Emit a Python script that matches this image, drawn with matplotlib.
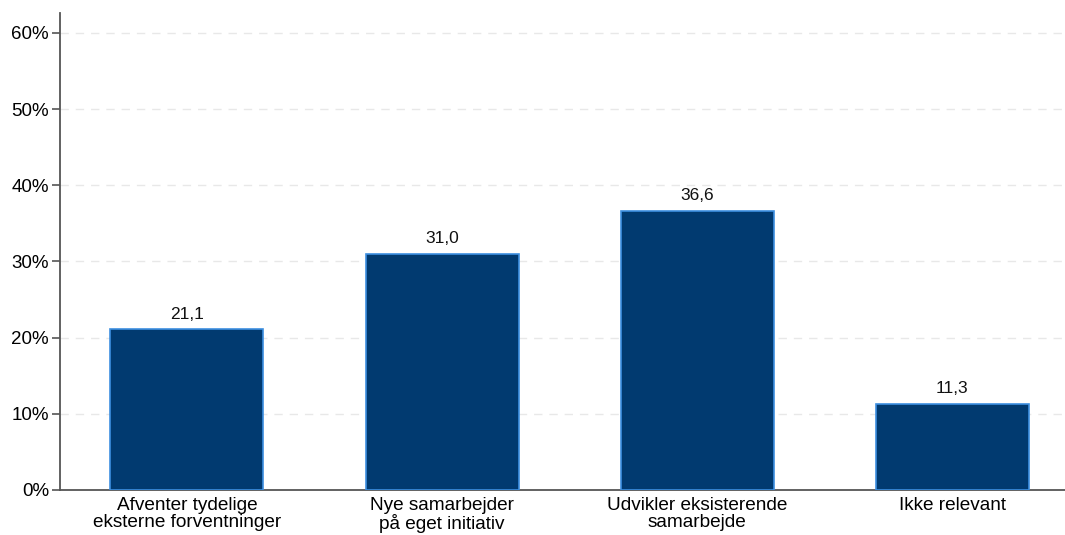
import numpy as np
import matplotlib.pyplot as plt

plt.rcParams['font.family'] = ['Liberation Sans', 'DejaVu Sans']

categories = ["Afventer tydelige\neksterne forventninger",
              "Nye samarbejder\npå eget initiativ",
              "Udvikler eksisterende\nsamarbejde",
              "Ikke relevant"]
values = [21.1, 31.0, 36.6, 11.3]
yticks = [0, 10, 20, 30, 40, 50, 60]

fig = plt.figure(figsize=(10.65, 5.35), dpi=100)
ax = fig.add_axes([60/1065, 45/535, 1005/1065, 477/535])

x = np.arange(len(categories))
bars = ax.bar(x, values, width=0.6, color="#013a70", edgecolor="#3d8fe0",
              linewidth=1.2, zorder=3)
for xi, v in zip(x, values):
    ax.text(xi, v + 1.0, f"{v:.1f}".replace(".", ","), ha="center",
            va="bottom", fontsize=12.5, color="#111111")

ax.set_xlim(-0.498, 3.443)
ax.set_ylim(0, 62.6)
ax.set_yticks(yticks)
ax.set_yticklabels([f"{t}%" for t in yticks], fontsize=13.5)
ax.set_xticks(x)
ax.set_xticklabels(categories, fontsize=13.7, linespacing=1.0)
ax.yaxis.grid(True, linestyle=(0, (6, 5)), color="#e8e8e8", linewidth=1, zorder=0)
for s in ["top", "right"]:
    ax.spines[s].set_visible(False)
for s in ["left", "bottom"]:
    ax.spines[s].set_color("#555555")
    ax.spines[s].set_linewidth(1.3)
ax.tick_params(axis="y", length=6, width=1.2, color="#555555", pad=2)
ax.tick_params(axis="x", length=0, pad=5)

fig.savefig("out.png", dpi=100)
